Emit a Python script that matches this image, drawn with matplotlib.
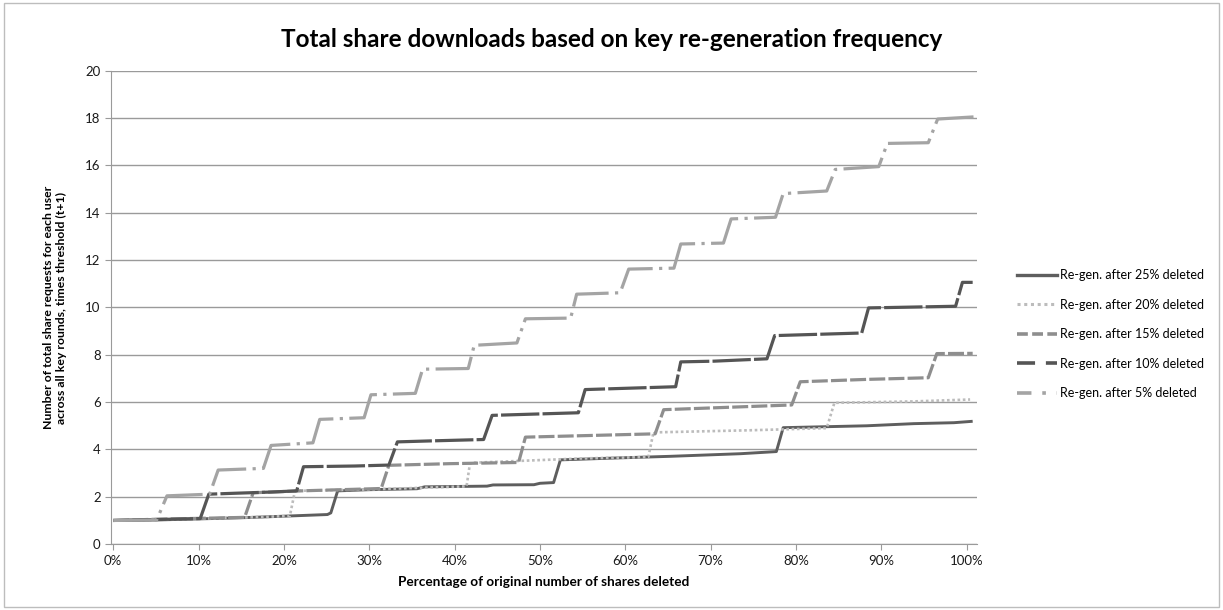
import matplotlib
matplotlib.use('Agg')
import matplotlib.pyplot as plt
from matplotlib.lines import Line2D
from matplotlib.patches import Rectangle
from matplotlib.ticker import FuncFormatter

plt.rcParams['font.family'] = ['Lato', 'DejaVu Sans']

# step curves (x in % deleted, y in requests)
x_25 = [0, 5, 10.5, 15.5, 20, 25.1, 25.5, 26.3, 30, 35.6, 36.5, 43.8, 44.5, 49.3, 50, 51.6,
        52.4, 59.0, 65.3, 73.5, 77.7, 78.5, 88.3, 93.8, 98.5, 100.7]
y_25 = [1.0, 1.02, 1.07, 1.12, 1.18, 1.25, 1.32, 2.25, 2.30, 2.34, 2.42, 2.45, 2.50, 2.51, 2.57, 2.60,
        3.56, 3.64, 3.71, 3.82, 3.91, 4.92, 5.00, 5.09, 5.13, 5.19]

x_20 = [0, 5, 10, 16, 20.7, 21.3, 30, 41.4, 41.8, 42.3, 47.9, 54.9, 62.7, 63.3, 74.6, 83.6,
        84.5, 93.8, 100.4]
y_20 = [1.0, 1.02, 1.07, 1.13, 1.19, 2.25, 2.31, 2.44, 3.40, 3.44, 3.52, 3.62, 3.68, 4.72, 4.81, 4.90,
        5.97, 6.03, 6.11]

x_15 = [0, 5, 15.4, 16.4, 22, 31.4, 32.3, 39.5, 47.5, 48.3, 63.5, 64.5, 73.5, 79.5, 80.5, 88.3,
        95.5, 96.5, 100.7]
y_15 = [1.0, 1.05, 1.13, 2.17, 2.25, 2.35, 3.33, 3.40, 3.45, 4.52, 4.66, 5.68, 5.80, 5.88, 6.86, 6.96,
        7.03, 8.05, 8.06]

x_10 = [0, 5.1, 10.2, 11.2, 14.3, 18.5, 21.5, 22.3, 28.3, 32.3, 33.3, 37.1, 43.4, 44.4, 54.5, 55.3,
        65.9, 66.5, 70.4, 76.6, 77.5, 87.7, 88.5, 98.7, 99.5, 100.7]
y_10 = [1.0, 1.04, 1.08, 2.11, 2.15, 2.20, 2.25, 3.27, 3.30, 3.34, 4.32, 4.36, 4.42, 5.44, 5.55, 6.53,
        6.65, 7.70, 7.73, 7.83, 8.81, 8.92, 9.98, 10.05, 11.06, 11.06]

x_5 = [0, 5.1, 6.3, 11.3, 12.3, 17.6, 18.5, 23.4, 24.2, 29.4, 30.2, 35.4, 36.25, 41.6, 42.3, 47.3,
       48.3, 53.6, 54.3, 59.4, 60.4, 65.7, 66.5, 71.5, 72.4, 77.6, 78.5, 83.6, 84.6, 89.7, 90.7,
       95.5, 96.6, 100.8]
y_5 = [1.0, 1.02, 2.04, 2.11, 3.13, 3.20, 4.17, 4.28, 5.27, 5.34, 6.31, 6.37, 7.39, 7.42, 8.40, 8.50,
       9.52, 9.55, 10.56, 10.62, 11.62, 11.66, 12.68, 12.72, 13.74, 13.81, 14.81, 14.92, 15.83, 15.95,
       16.93, 16.96, 17.96, 18.05]

labels = ['Re-gen. after 25% deleted', 'Re-gen. after 20% deleted', 'Re-gen. after 15% deleted',
          'Re-gen. after 10% deleted', 'Re-gen. after 5% deleted']

fig = plt.figure(figsize=(12.23, 6.10), dpi=100)
ax = fig.add_axes([0.0908, 0.108, 0.708, 0.776])

# (color, width, dash pattern on the curve, dash pattern in the legend)
styles = [
    ('#5e5e5e', 2.1, (None, None), (None, None)),
    ('#bcbcbc', 1.9, (0, (1, 1)), (0, (1, 1.2))),
    ('#8e8e8e', 2.3, (0, (5, 1)), (0, (3, 1.2))),
    ('#555555', 2.3, (0, (12, 1)), (0, (5, 3))),
    ('#a4a4a4', 2.3, (0, (14, 2, 1, 2)), (0, (4, 3, 1, 3))),
]
series = [(x_25, y_25), (x_20, y_20), (x_15, y_15), (x_10, y_10), (x_5, y_5)]

handles = []
for (xs, ys), (col, lw, ls, lls), lab in zip(series, styles, labels):
    kw = {} if ls[0] is None else {'linestyle': ls}
    ax.plot(xs, ys, color=col, lw=lw, solid_capstyle='butt', **kw)
    hk = {'linestyle': '-'} if lls[0] is None else {'linestyle': lls}
    handles.append(Line2D([0], [0], color=col, lw=lw + 0.3, **hk))

ax.set_xlim(-0.25, 101.2)
ax.set_ylim(0, 20)
ax.set_yticks(range(0, 21, 2))
ax.set_xticks(range(0, 101, 10))
ax.xaxis.set_major_formatter(FuncFormatter(lambda v, p: '%d%%' % v))
ax.yaxis.grid(True, color='#9a9a9a', lw=1)
ax.set_axisbelow(True)
for s in ['top', 'right']:
    ax.spines[s].set_visible(False)
for s in ['left', 'bottom']:
    ax.spines[s].set_color('#9a9a9a')
ax.tick_params(colors='#9a9a9a', labelcolor='#1a1a1a', labelsize=9.5, length=4)

ax.set_xlabel('Percentage of original number of shares deleted', fontsize=9.8,
              fontweight='bold', labelpad=7)
ax.set_ylabel('Number of total share requests for each user\nacross all key rounds, times threshold (t+1)',
              fontsize=8.8, fontweight='bold', labelpad=13)
fig.text(0.5, 0.935, 'Total share downloads based on key re-generation frequency',
         ha='center', va='center', fontsize=17.5, fontweight='bold')

fig.legend(handles, labels, loc='center left', bbox_to_anchor=(0.822, 0.452), frameon=False,
           fontsize=9, handlelength=3.2, handletextpad=0.3, labelspacing=1.4)

fig.patches.append(Rectangle((0.003, 0.005), 0.994, 0.99, transform=fig.transFigure,
                             fill=False, edgecolor='#bdbdbd', lw=1))

fig.savefig('out.png', dpi=100)
